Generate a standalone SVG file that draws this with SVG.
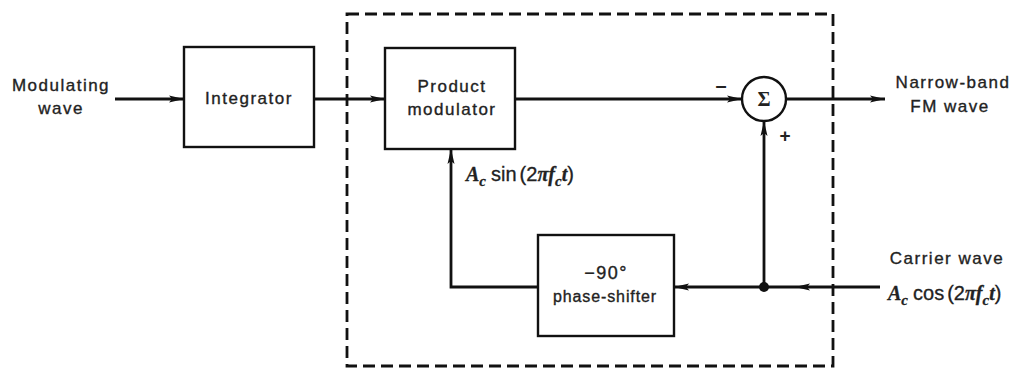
<svg xmlns="http://www.w3.org/2000/svg" width="1015" height="371" viewBox="0 0 1015 371">
<style>
.box{fill:#fff;stroke:#111;stroke-width:2.4}
.ln{fill:none;stroke:#111;stroke-width:2.8}
.t{font-family:"Liberation Sans",Arial,sans-serif;font-size:17px;letter-spacing:1.5px;fill:#222;stroke:#222;stroke-width:0.35}
.f{font-family:"Liberation Sans",Arial,sans-serif;font-size:20px;fill:#222;stroke:#222;stroke-width:0.3}
.m{font-family:"Liberation Serif","Times New Roman",serif;font-style:italic;font-weight:bold}
</style>
<defs>
<marker id="ah" markerWidth="16" markerHeight="10" refX="15" refY="5" orient="auto" markerUnits="userSpaceOnUse">
<path d="M0,1.5 L15,5 L0,8.5 L3,5 Z" fill="#111"/>
</marker>
</defs>
<rect width="1015" height="371" fill="#fff"/>
<rect x="347" y="14" width="486" height="352" fill="none" stroke="#111" stroke-width="2.8" stroke-dasharray="12 6"/>
<g id="integrator">
<rect class="box" x="184" y="47" width="130" height="100"/>
<text class="t" x="249" y="104" text-anchor="middle">Integrator</text>
</g>
<g id="product">
<rect class="box" x="385" y="48" width="130" height="101"/>
<text class="t" x="452" y="92" text-anchor="middle">Product</text>
<text class="t" x="452" y="115" text-anchor="middle">modulator</text>
</g>
<g id="sum">
<circle cx="764" cy="99" r="22" fill="#fff" stroke="#111" stroke-width="2.4"/>
<text x="764" y="106" text-anchor="middle" font-family="Liberation Serif,serif" font-size="20" font-weight="bold" fill="#222">Σ</text>
<text x="721" y="92" text-anchor="middle" font-family="Liberation Sans,sans-serif" font-size="20" font-weight="bold" fill="#222">–</text>
<text x="785" y="142" text-anchor="middle" font-family="Liberation Sans,sans-serif" font-size="19" font-weight="bold" fill="#222">+</text>
</g>
<g id="phase">
<rect class="box" x="538" y="235" width="136" height="101"/>
<text class="t" x="606" y="279" text-anchor="middle" style="font-size:18px">−90°</text>
<text class="t" x="605" y="302" text-anchor="middle" style="font-size:16px;letter-spacing:0.9px">phase-shifter</text>
</g>
<g id="labels">
<text class="t" x="61" y="91" text-anchor="middle">Modulating</text>
<text class="t" x="61" y="114" text-anchor="middle">wave</text>
<text class="t" x="953" y="88" text-anchor="middle">Narrow-band</text>
<text class="t" x="950" y="112" text-anchor="middle">FM wave</text>
<text class="t" x="947" y="264" text-anchor="middle">Carrier wave</text>
<text class="f" x="888" y="300"><tspan class="m">A</tspan><tspan class="m" font-size="15" dy="5">c</tspan><tspan dy="-5" dx="5">cos</tspan><tspan dx="3">(2</tspan><tspan class="m">πf</tspan><tspan class="m" font-size="15" dy="5">c</tspan><tspan class="m" dy="-5">t</tspan><tspan>)</tspan></text>
<text class="f" x="466" y="181"><tspan class="m">A</tspan><tspan class="m" font-size="15" dy="5">c</tspan><tspan dy="-5" dx="5">sin</tspan><tspan dx="3">(2</tspan><tspan class="m">πf</tspan><tspan class="m" font-size="15" dy="5">c</tspan><tspan class="m" dy="-5">t</tspan><tspan>)</tspan></text>
</g>
<g id="connectors">
<line class="ln" x1="115" y1="99" x2="184" y2="99" marker-end="url(#ah)"/>
<line class="ln" x1="314" y1="99" x2="385" y2="99" marker-end="url(#ah)"/>
<line class="ln" x1="515" y1="99" x2="742" y2="99" marker-end="url(#ah)"/>
<line class="ln" x1="786" y1="99" x2="885" y2="99" marker-end="url(#ah)"/>
<line class="ln" x1="880" y1="287" x2="795" y2="287" marker-end="url(#ah)"/>
<line class="ln" x1="795" y1="287" x2="674" y2="287" marker-end="url(#ah)"/>
<line class="ln" x1="764" y1="287" x2="764" y2="121" marker-end="url(#ah)"/>
<polyline class="ln" points="538,287 451,287 451,149" marker-end="url(#ah)"/>
<circle cx="764" cy="287" r="5" fill="#111"/>
</g>
</svg>
